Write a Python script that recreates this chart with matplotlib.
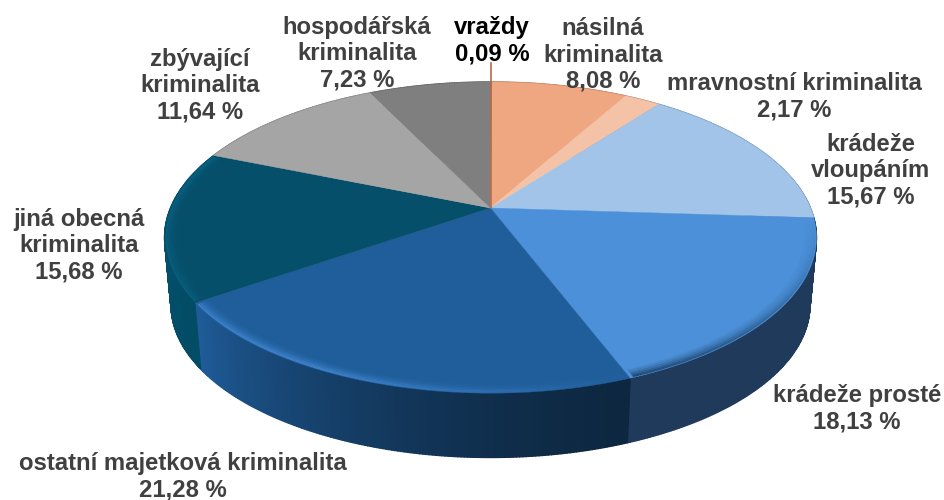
import numpy as np
import matplotlib
matplotlib.use("Agg")
import matplotlib.pyplot as plt
from matplotlib.collections import LineCollection
from matplotlib.colors import to_rgb

categories = ["vraždy", "násilná kriminalita", "mravnostní kriminalita", "krádeže vloupáním",
              "krádeže prosté", "ostatní majetková kriminalita", "jiná obecná kriminalita",
              "zbývající kriminalita", "hospodářská kriminalita"]
values = [0.09, 8.08, 2.17, 15.67, 18.13, 21.28, 15.68, 11.64, 7.23]
top_colors = ["#B9694A", "#EFA782", "#F4C3A7", "#A1C4E8", "#4B90D8", "#205E9B", "#064F6A", "#A5A5A5", "#7F7F7F"]
side_start = ["#8a4a30", "#b07050", "#b08a70", "#6f8eac", "#203A5C", "#0D2740", "#024C66", "#777777", "#5a5a5a"]
side_end = ["#8a4a30", "#b07050", "#b08a70", "#6f8eac", "#203A5C", "#1F5C99", "#04506C", "#777777", "#5a5a5a"]
side_gamma = [1, 1, 1, 1, 1, 1.5, 1, 1, 1]
rim_colors = [None, None, None, None, "#1B4066", "#4286D0", "#0A6E90", None, None]
rim_from = [0, 0, 0, 0, 0.0, 0.0, 0.6, 0, 0]
rim_to = [0, 0, 0, 0, 1.0, 1.0, 0.6, 0, 0]

labels = ["vraždy\n0,09 %", "násilná\nkriminalita\n8,08 %", "mravnostní kriminalita\n2,17 %",
          "krádeže\nvloupáním\n15,67 %", "krádeže prosté\n18,13 %",
          "ostatní majetková kriminalita\n21,28 %", "jiná obecná\nkriminalita\n15,68 %",
          "zbývající\nkriminalita\n11,64 %", "hospodářská\nkriminalita\n7,23 %"]
label_xy = [(492, 41), (603, 55), (794, 97), (871, 171), (857, 409), (183, 477), (79, 246), (200, 86), (357, 54)]
label_colors = ["#000000"] + ["#404040"] * 8

CX, CY, A, B, K = 490.5, 208.0, 320.0, 150.0, 0.19
DEPTH, SHRINK = 68.0, 0.98


def project(theta, r=1.0):
    u, v = r * np.sin(theta), r * np.cos(theta)
    w = 1 + K * v
    return CX + A * u / w, CY - B * v / w


def project_low(theta):
    x, y = project(theta)
    return CX + SHRINK * (x - CX), CY + DEPTH + SHRINK * (y - CY)


fig = plt.figure(figsize=(9.44, 5.0), dpi=100)
ax = fig.add_axes([0, 0, 1, 1])
ax.set_xlim(0, 944)
ax.set_ylim(500, 0)
ax.axis("off")

fr = np.array(values) / sum(values)
edges = np.concatenate([[0], np.cumsum(fr)]) * 2 * np.pi

# side walls
for i in range(len(values)):
    t0, t1 = edges[i], edges[i + 1]
    n = max(2, int((t1 - t0) * 120))
    ts = np.linspace(t0, t1, n + 1)
    c0, c1 = np.array(to_rgb(side_start[i])), np.array(to_rgb(side_end[i]))
    for j in range(n):
        f = (j / max(n - 1, 1)) ** side_gamma[i]
        col = c0 + (c1 - c0) * f
        a, b = ts[j], ts[j + 1]
        xa, ya = project(a)
        xb, yb = project(b)
        xc, yc = project_low(b)
        xd, yd = project_low(a)
        ax.fill([xa, xb, xc, xd], [ya, yb, yc, yd], color=col, lw=1.0, zorder=1)

# top faces
for i in range(len(values)):
    ts = np.linspace(edges[i], edges[i + 1], 80)
    x, y = project(ts)
    ax.fill(np.r_[CX, x], np.r_[CY, y], color=top_colors[i], lw=0.3, zorder=2)

# bevel along the front rim
for i in range(len(values)):
    if rim_colors[i] is None:
        continue
    ts = np.linspace(edges[i] + 0.01, edges[i + 1] - 0.01, 120)
    env = np.linspace(rim_from[i], rim_to[i], 119)
    env = np.clip(env * 1.6, 0, 1) if i == 5 else env
    rgb = to_rgb(rim_colors[i])
    for r, al in zip([0.994, 0.987, 0.980, 0.973, 0.966], [0.85, 0.6, 0.38, 0.22, 0.1]):
        x, y = project(ts, r)
        pts = np.column_stack([x, y])
        segs = np.stack([pts[:-1], pts[1:]], axis=1)
        cols = [(*rgb, al * e) for e in env]
        ax.add_collection(LineCollection(segs, colors=cols, linewidths=1.5, zorder=3, capstyle="butt"))

# leader of the thin slice
ax.plot([CX, CX], [63, CY], color=top_colors[0], lw=1.2, zorder=4)

for s, (x, y), c in zip(labels, label_xy, label_colors):
    ax.text(x, y, s, ha="center", va="center", color=c, fontsize=17.2, fontweight="bold",
            family="Liberation Sans", linespacing=1.18, zorder=5)

fig.savefig("out.png", dpi=100, facecolor="white")
